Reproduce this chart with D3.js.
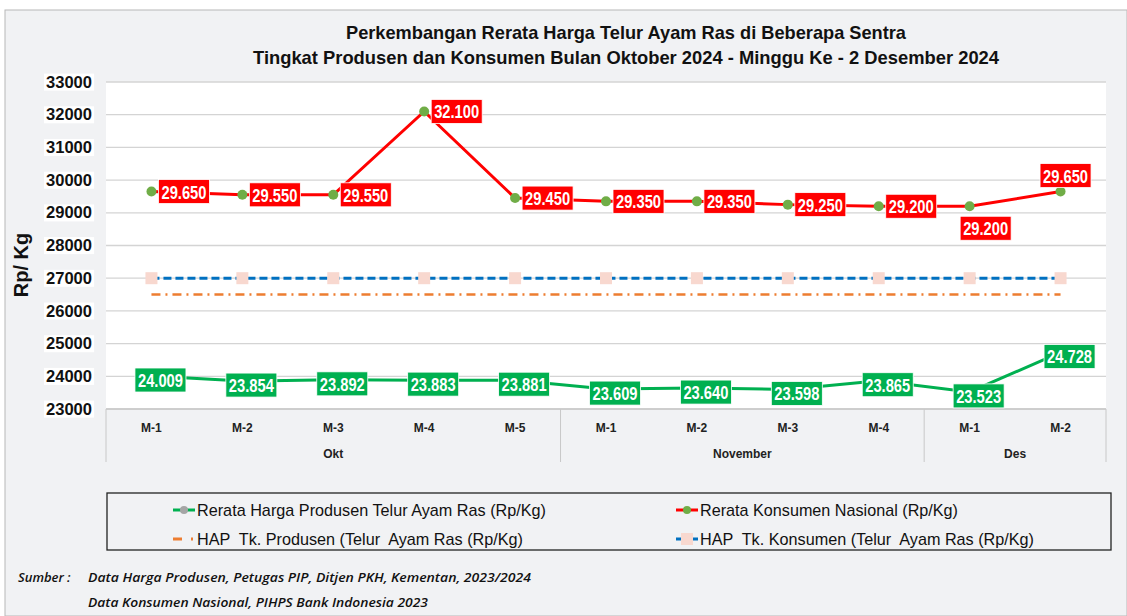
<!DOCTYPE html>
<html>
<head>
<meta charset="utf-8">
<script src="https://cdn.jsdelivr.net/npm/d3@7"></script>
<style>
  body { margin: 0; background: #fff; }
  svg { display: block; font-family: "Liberation Sans", Arial, sans-serif; }
  text { white-space: pre; }
</style>
</head>
<body>
<div id="chart"></div>
<script>
// weeks and months on the x axis
const weeks = ["M-1", "M-2", "M-3", "M-4", "M-5", "M-1", "M-2", "M-3", "M-4", "M-1", "M-2"];
const months = ["Okt", "November", "Des"];
const monthSpans = [5, 4, 2];

// series values (Rp/Kg)
const konsumen = [29650, 29550, 29550, 32100, 29450, 29350, 29350, 29250, 29200, 29200, 29650];
const produsen = [24009, 23854, 23892, 23883, 23881, 23609, 23640, 23598, 23865, 23523, 24728];
const hapKonsumen = [27000, 27000, 27000, 27000, 27000, 27000, 27000, 27000, 27000, 27000, 27000];
const hapProdusen = [26500, 26500, 26500, 26500, 26500, 26500, 26500, 26500, 26500, 26500, 26500];

const yTicks = [23000, 24000, 25000, 26000, 27000, 28000, 29000, 30000, 31000, 32000, 33000];

const titleLines = [
  "Perkembangan Rerata Harga Telur Ayam Ras di Beberapa Sentra",
  "Tingkat Produsen dan Konsumen Bulan Oktober 2024 - Minggu Ke - 2 Desember 2024"
];

const W = 1127, H = 616;
const margin = { top: 82, left: 106, right: 21, bottom: 207 };
const plotW = W - margin.left - margin.right;
const plotH = H - margin.top - margin.bottom;

const fmt = v => d3.format(",")(v).replace(/,/g, ".");

const svg = d3.select("#chart").append("svg")
  .attr("width", W).attr("height", H);

// outer frame
svg.append("rect").attr("x", 5).attr("y", 10).attr("width", W - 5).attr("height", H - 10)
  .attr("fill", "#f1f2f4").attr("stroke", "#b8b8b8").attr("stroke-width", 1);

// title
svg.append("g").selectAll("text").data(titleLines).enter().append("text")
  .attr("x", 626).attr("y", (d, i) => 39 + i * 25)
  .attr("text-anchor", "middle")
  .attr("font-size", 19).attr("font-weight", "bold").attr("fill", "#111")
  .attr("textLength", (d, i) => i === 0 ? 560 : 746).attr("lengthAdjust", "spacingAndGlyphs")
  .text(d => d);

const x = d3.scaleBand().domain(d3.range(weeks.length)).range([0, plotW]);
const cx = i => x(i) + x.bandwidth() / 2;
const y = d3.scaleLinear().domain([23000, 33000]).range([plotH, 0]);

const chart = svg.append("g").attr("transform", `translate(${margin.left}, ${margin.top})`);

// plot area
chart.append("rect").attr("width", plotW).attr("height", plotH).attr("fill", "#fff");

// gridlines
chart.append("g").selectAll("line").data(yTicks).enter().append("line")
  .attr("x1", 0).attr("x2", plotW)
  .attr("y1", d => y(d)).attr("y2", d => y(d))
  .attr("stroke", "#d4d4d4").attr("stroke-width", 1.3);

// y axis labels
const yAxis = chart.append("g")
  .call(d3.axisLeft(y).tickValues(yTicks).tickSize(0).tickPadding(14).tickFormat(d3.format("d")));
yAxis.select(".domain").remove();
yAxis.selectAll("text")
  .attr("font-size", 16).attr("font-weight", "bold").attr("fill", "#111")
  .attr("font-family", "Liberation Sans, Arial, sans-serif")
  .attr("textLength", 46).attr("lengthAdjust", "spacingAndGlyphs");
yAxis.selectAll(".tick").each(function () {
  const t = d3.select(this).select("text");
  const b = t.node().getBBox();
  d3.select(this).insert("rect", "text")
    .attr("x", b.x - 2).attr("y", b.y).attr("width", b.width + 4).attr("height", b.height)
    .attr("fill", "#fff");
});

// y axis title
svg.append("text")
  .attr("transform", "translate(28, 265) rotate(-90)")
  .attr("text-anchor", "middle")
  .attr("font-size", 20).attr("font-weight", "bold").attr("fill", "#111")
  .text("Rp/ Kg");

// x axis: week labels
chart.append("g").selectAll("text").data(weeks).enter().append("text")
  .attr("x", (d, i) => cx(i)).attr("y", plotH + 23)
  .attr("text-anchor", "middle")
  .attr("font-size", 12).attr("font-weight", "bold").attr("fill", "#222")
  .text(d => d);

// month groups
const starts = monthSpans.map((s, i) => d3.sum(monthSpans.slice(0, i)));
const bounds = [0].concat(monthSpans.map((s, i) => starts[i] + s));
chart.append("g").selectAll("line").data(bounds).enter().append("line")
  .attr("x1", d => d === weeks.length ? plotW : x(d))
  .attr("x2", d => d === weeks.length ? plotW : x(d))
  .attr("y1", plotH).attr("y2", plotH + 53)
  .attr("stroke", "#c8c8c8").attr("stroke-width", 1);
chart.append("g").selectAll("text").data(months).enter().append("text")
  .attr("x", (d, i) => {
    const a = x(starts[i]);
    const b = starts[i] + monthSpans[i] === weeks.length ? plotW : x(starts[i] + monthSpans[i]);
    return (a + b) / 2;
  })
  .attr("y", plotH + 49)
  .attr("text-anchor", "middle")
  .attr("font-size", 12).attr("font-weight", "bold").attr("fill", "#222")
  .text(d => d);

// baseline
chart.append("line").attr("x1", 0).attr("x2", plotW).attr("y1", plotH).attr("y2", plotH)
  .attr("stroke", "#c8c8c8").attr("stroke-width", 1.3);

const line = d3.line().x((d, i) => cx(i)).y(d => y(d));

// HAP produsen (dash-dot orange)
chart.append("path").datum(hapProdusen).attr("d", line)
  .attr("fill", "none").attr("stroke", "#ed7d31").attr("stroke-width", 2.5)
  .attr("stroke-dasharray", "9,5,2,5");

// HAP konsumen (dashed blue with pink squares)
chart.append("path").datum(hapKonsumen).attr("d", line)
  .attr("fill", "none").attr("stroke", "#0070c0").attr("stroke-width", 3)
  .attr("stroke-dasharray", "8,4");
chart.append("g").selectAll("rect").data(hapKonsumen).enter().append("rect")
  .attr("x", (d, i) => cx(i) - 6).attr("y", d => y(d) - 6)
  .attr("width", 12).attr("height", 12).attr("fill", "#f8d8cf");

// konsumen (red)
chart.append("path").datum(konsumen).attr("d", line)
  .attr("fill", "none").attr("stroke", "#ff0000").attr("stroke-width", 3);
chart.append("g").selectAll("circle").data(konsumen).enter().append("circle")
  .attr("cx", (d, i) => cx(i)).attr("cy", d => y(d)).attr("r", 5)
  .attr("fill", "#70ad47");

// produsen (green)
chart.append("path").datum(produsen).attr("d", line)
  .attr("fill", "none").attr("stroke", "#00b050").attr("stroke-width", 3);
chart.append("g").selectAll("circle").data(produsen).enter().append("circle")
  .attr("cx", (d, i) => cx(i)).attr("cy", d => y(d)).attr("r", 4)
  .attr("fill", "#a5a5a5");

// data labels
function addLabel(g, px, py, value, fill, anchor) {
  const bw = 51, bh = 24;
  let lx, ly;
  if (anchor === "right") { lx = px + 7; ly = py - bh / 2; }
  else if (anchor === "below") { lx = px + 16 - bw / 2; ly = py + 10; }
  else if (anchor === "above") { lx = px + 5 - bw / 2; ly = py - bh - 4; }
  else { lx = px + 9 - bw / 2; ly = py + 4 - bh / 2; }
  const grp = g.append("g");
  grp.append("rect").attr("x", lx).attr("y", ly).attr("width", bw).attr("height", bh)
    .attr("fill", fill).attr("stroke", "#fff").attr("stroke-width", 0.8);
  grp.append("text")
    .attr("x", lx + 3).attr("y", ly + bh / 2 + 1)
    .attr("font-size", 18).attr("font-weight", "bold").attr("fill", "#fff")
    .attr("dominant-baseline", "central")
    .attr("textLength", bw - 6).attr("lengthAdjust", "spacingAndGlyphs")
    .text(fmt(value));
}

const labels = chart.append("g");
konsumen.forEach((v, i) => {
  const a = i === weeks.length - 2 ? "below" : i === weeks.length - 1 ? "above" : "right";
  addLabel(labels, cx(i), y(v), v, "#ff0000", a);
});
produsen.forEach((v, i) => addLabel(labels, cx(i), y(v), v, "#00b050", "center"));

// legend
const lg = svg.append("g");
lg.append("rect").attr("x", 107).attr("y", 493).attr("width", 1004).attr("height", 57)
  .attr("fill", "none").attr("stroke", "#222").attr("stroke-width", 1.3);
const legendItems = [
  { label: "Rerata Harga Produsen Telur Ayam Ras (Rp/Kg)", x: 181, y: 510, w: 349, color: "#00b050", kind: "line", mk: "#a5a5a5" },
  { label: "Rerata Konsumen Nasional (Rp/Kg)", x: 684, y: 510, w: 258, color: "#ff0000", kind: "line", mk: "#70ad47" },
  { label: "HAP  Tk. Produsen (Telur  Ayam Ras (Rp/Kg)", x: 181, y: 539, w: 326, color: "#ed7d31", kind: "dashdot" },
  { label: "HAP  Tk. Konsumen (Telur  Ayam Ras (Rp/Kg)", x: 684, y: 539, w: 334, color: "#0070c0", kind: "dash", mk: "#f8d8cf" }
];
legendItems.forEach(d => {
  const g = lg.append("g").attr("transform", `translate(${d.x}, ${d.y})`);
  if (d.kind === "dashdot") {
    g.append("line").attr("x1", -8).attr("x2", 14).attr("stroke", d.color).attr("stroke-width", 3)
      .attr("stroke-dasharray", "9,9,2,20");
  } else {
    g.append("line").attr("x1", -8).attr("x2", 14).attr("stroke", d.color).attr("stroke-width", 3);
  }
  if (d.kind === "line") g.append("circle").attr("cx", 3).attr("r", 4).attr("fill", d.mk);
  if (d.kind === "dash") g.append("rect").attr("x", -3).attr("y", -6).attr("width", 12).attr("height", 12).attr("fill", d.mk);
  g.append("text").attr("x", 16).attr("dominant-baseline", "central")
    .attr("font-size", 17).attr("fill", "#111")
    .attr("textLength", d.w).attr("lengthAdjust", "spacingAndGlyphs")
    .text(d.label);
});

// source notes
const notes = svg.append("g").attr("font-style", "italic").attr("fill", "#111")
  .attr("font-family", "Open Sans, Noto Sans, sans-serif").attr("font-weight", 600);
notes.append("text").attr("x", 18).attr("y", 582).attr("font-size", 13).text("Sumber :");
notes.append("text").attr("x", 88).attr("y", 582).attr("font-size", 13)
  .attr("textLength", 443).attr("lengthAdjust", "spacingAndGlyphs")
  .text("Data Harga Produsen, Petugas PIP, Ditjen PKH, Kementan, 2023/2024");
notes.append("text").attr("x", 88).attr("y", 607).attr("font-size", 13)
  .attr("textLength", 340).attr("lengthAdjust", "spacingAndGlyphs")
  .text("Data Konsumen Nasional, PIHPS Bank Indonesia 2023");
</script>
</body>
</html>
